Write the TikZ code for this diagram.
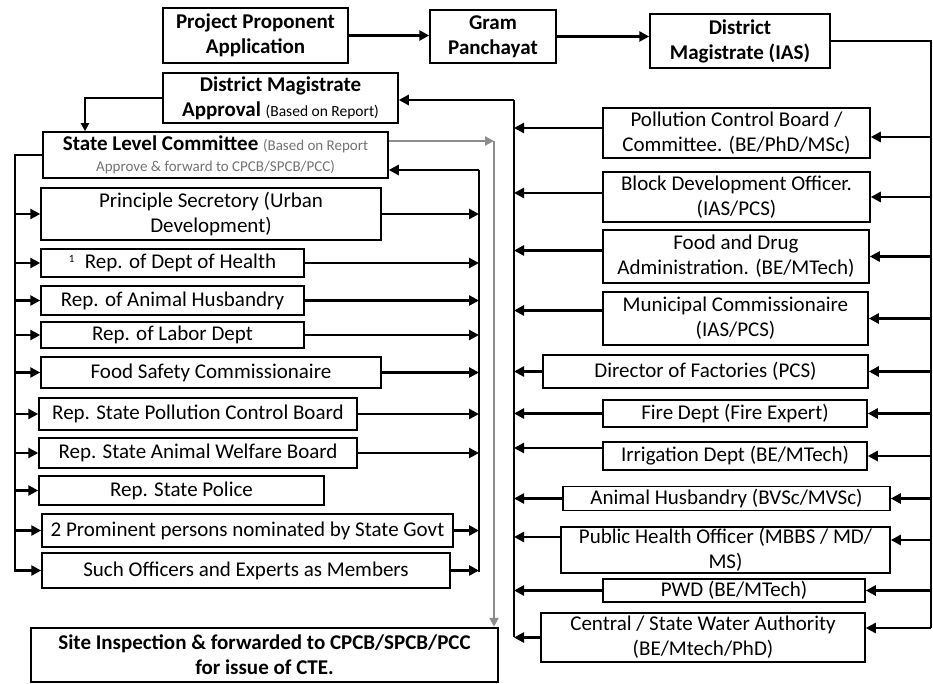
\documentclass[tikz,border=0pt]{standalone}
\usepackage{fontspec}
\setmainfont{Carlito}
\usetikzlibrary{arrows.meta}
\tikzset{
  box/.style={draw=black, line width=1.5pt, inner sep=0pt, align=center, font=\fontsize{21}{25}\selectfont},
  bbox/.style={box, font=\fontsize{21}{25}\selectfont\bfseries},
  arr/.style={line width=2.8pt, -{Triangle[length=10pt,width=10pt]}},
  ln/.style={line width=2.8pt},
  garr/.style={line width=2.2pt, draw=black!45, -{Triangle[length=9pt,width=9pt]}},
  gln/.style={line width=2.2pt, draw=black!45},
}
\begin{document}
\begin{tikzpicture}[x=1pt,y=-1pt]
\fill[white] (0,0) rectangle (933,684);
\useasboundingbox (0,0) rectangle (933,684);

% top row
\node[bbox, minimum width=185pt, minimum height=55pt] (ppa) at (255.5,35.5) {Project Proponent\\Application};
\node[bbox, minimum width=126pt, minimum height=53pt] (gp) at (493,36.5) {Gram\\Panchayat};
\node[bbox, minimum width=180pt, minimum height=54pt] (dm) at (740,41) {District\\Magistrate (IAS)};
\node[bbox, minimum width=235pt, minimum height=50pt] (dma) at (280.5,98) {District Magistrate\\Approval {\mdseries\fontsize{15.5}{18}\selectfont(Based on Report)}};
\node[box, minimum width=345pt, minimum height=46pt] (slc) at (215.5,155) {{\bfseries State Level Committee} {\color{black!55}\fontsize{15}{18}\selectfont(Based on Report}\\[-4pt]{\color{black!55}\fontsize{15}{18}\selectfont Approve \& forward to CPCB/SPCB/PCC)}};

% members (left column)
\node[box, minimum width=340pt, minimum height=52pt] (ps) at (211,214) {Principle Secretory (Urban\\Development)};
\node[box, minimum width=263pt, minimum height=28pt] (health) at (172.5,263) {{\fontsize{11}{11}\selectfont\raisebox{6pt}{1}}\enspace Rep. of Dept of Health};
\node[box, minimum width=263pt, minimum height=29pt] (ah) at (172.5,300.5) {Rep. of Animal Husbandry};
\node[box, minimum width=263pt, minimum height=26pt] (labor) at (172.5,335) {Rep. of Labor Dept};
\node[box, minimum width=340pt, minimum height=31pt] (fsc) at (211,372.5) {Food Safety Commissionaire};
\node[box, minimum width=318pt, minimum height=32pt] (spcb) at (198,414) {Rep. State Pollution Control Board};
\node[box, minimum width=318pt, minimum height=30pt] (sawb) at (198,453) {Rep. State Animal Welfare Board};
\node[box, minimum width=285pt, minimum height=29pt] (police) at (181.5,490.5) {Rep. State Police};
\node[box, minimum width=411pt, minimum height=33pt] (prom) at (247.5,530.5) {2 Prominent persons nominated by State Govt};
\node[box, minimum width=408pt, minimum height=35pt] (such) at (246,570.5) {Such Officers and Experts as Members};
\node[bbox, line width=2.5pt, minimum width=467pt, minimum height=54pt] (site) at (264.5,655) {Site Inspection \& forwarded to CPCB/SPCB/PCC\\for issue of CTE.};

% right column
\node[box, minimum width=267pt, minimum height=50pt] (pcb) at (736.5,133) {Pollution Control Board /\\Committee. (BE/PhD/MSc)};
\node[box, minimum width=267pt, minimum height=50pt] (bdo) at (736.5,197) {Block Development Officer.\\(IAS/PCS)};
\node[box, minimum width=266pt, minimum height=53pt] (fda) at (736,256.5) {Food and Drug\\Administration. (BE/MTech)};
\node[box, minimum width=265pt, minimum height=53pt] (mc) at (735.5,318.5) {Municipal Commissionaire\\(IAS/PCS)};
\node[box, minimum width=325pt, minimum height=33pt] (dof) at (705.5,371.5) {Director of Factories (PCS)};
\node[box, minimum width=264pt, minimum height=27pt] (fire) at (735,413.5) {Fire Dept (Fire Expert)};
\node[box, minimum width=264pt, minimum height=28pt] (irr) at (735,456) {Irrigation Dept (BE/MTech)};
\node[box, minimum width=327pt, minimum height=24pt] (ahr) at (726.5,498.5) {Animal Husbandry (BVSc/MVSc)};
\node[box, minimum width=329pt, minimum height=46pt] (pho) at (725.5,550) {Public Health Officer (MBBS / MD/\\MS)};
\node[box, minimum width=262pt, minimum height=23pt] (pwd) at (734,590.5) {PWD (BE/MTech)};
\node[box, minimum width=324pt, minimum height=49pt] (cswa) at (703,637.5) {Central / State Water Authority\\(BE/Mtech/PhD)};

% bus coordinates
\coordinate (rtop) at (931,41);
\coordinate (rbot) at (931,628);
\coordinate (ibtop) at (514,100);
\coordinate (ibbot) at (514,637);
\coordinate (mbtop) at (479,170);
\coordinate (mbbot) at (479,572);
\coordinate (lbbot) at (15,572);
\coordinate (gtop) at (494,141);
\coordinate (dmsl) at (85,95);

% top flow
\draw[arr] (ppa.east) -- (ppa.east -| gp.west);
\draw[arr] (gp.east) -- (gp.east -| dm.west);
\draw[ln] (dm.east) -- (rtop) -- (rbot);

% right bus -> right boxes
\coordinate (pcbR) at ([yshift=-4pt]pcb.east);
\coordinate (phoR) at ([yshift=10pt]pho.east);
\coordinate (cswaR) at ([yshift=9.5pt]cswa.east);
\draw[arr] (rtop |- pcbR) -- (pcbR);
\foreach \n in {bdo,fda,mc,dof,fire,irr,ahr,pwd}{\draw[arr] (rtop |- \n.east) -- (\n.east);}
\draw[arr] (rtop |- phoR) -- (phoR);
\draw[arr] (rbot) -- (cswaR);

% right boxes -> inner bus -> DMA
\coordinate (pcbL) at ([yshift=5pt]pcb.west);
\coordinate (bdoL) at ([yshift=4pt]bdo.west);
\coordinate (fdaL) at ([yshift=6pt]fda.west);
\coordinate (mcL) at ([yshift=8pt]mc.west);
\coordinate (irrL) at ([yshift=8pt]irr.west);
\coordinate (phoL) at ([yshift=13pt]pho.west);
\coordinate (cswaL) at (cswa.west);
\draw[ln] (ibbot) -- (ibtop);
\draw[arr] (ibtop) -- (ibtop -| dma.east);
\foreach \n in {pcbL,bdoL,fdaL,mcL,irrL,phoL,cswaL}{\draw[arr] (\n) -- (ibtop |- \n);}
\foreach \n in {dof,fire,ahr,pwd}{\draw[arr] (\n.west) -- (ibtop |- \n.west);}

% DMA -> SLC
\draw[arr, line width=2.4pt, -{Triangle[length=8pt,width=8pt]}] (dma.west) -| (dmsl |- slc.north);

% SLC -> left bus -> members
\draw[ln] (slc.west) -| (lbbot);
\foreach \n in {ps,health,ah,labor,fsc,spcb,sawb,police,prom,such}{\draw[arr] (lbbot |- \n.west) -- (\n.west);}

% members -> member bus -> SLC
\foreach \n in {ps,health,ah,labor,fsc,spcb,sawb,prom,such}{\draw[arr] (\n.east) -- (mbtop |- \n.east);}
\draw[ln] (mbbot) -- (mbtop);
\draw[arr] (mbtop) -- (mbtop -| slc.east);

% SLC -> site inspection (grey)
\coordinate (slcR) at ([yshift=14pt]slc.east);
\draw[garr] (slcR) -- (gtop);
\draw[garr] (gtop) -- (gtop |- site.north);
\end{tikzpicture}
\end{document}
